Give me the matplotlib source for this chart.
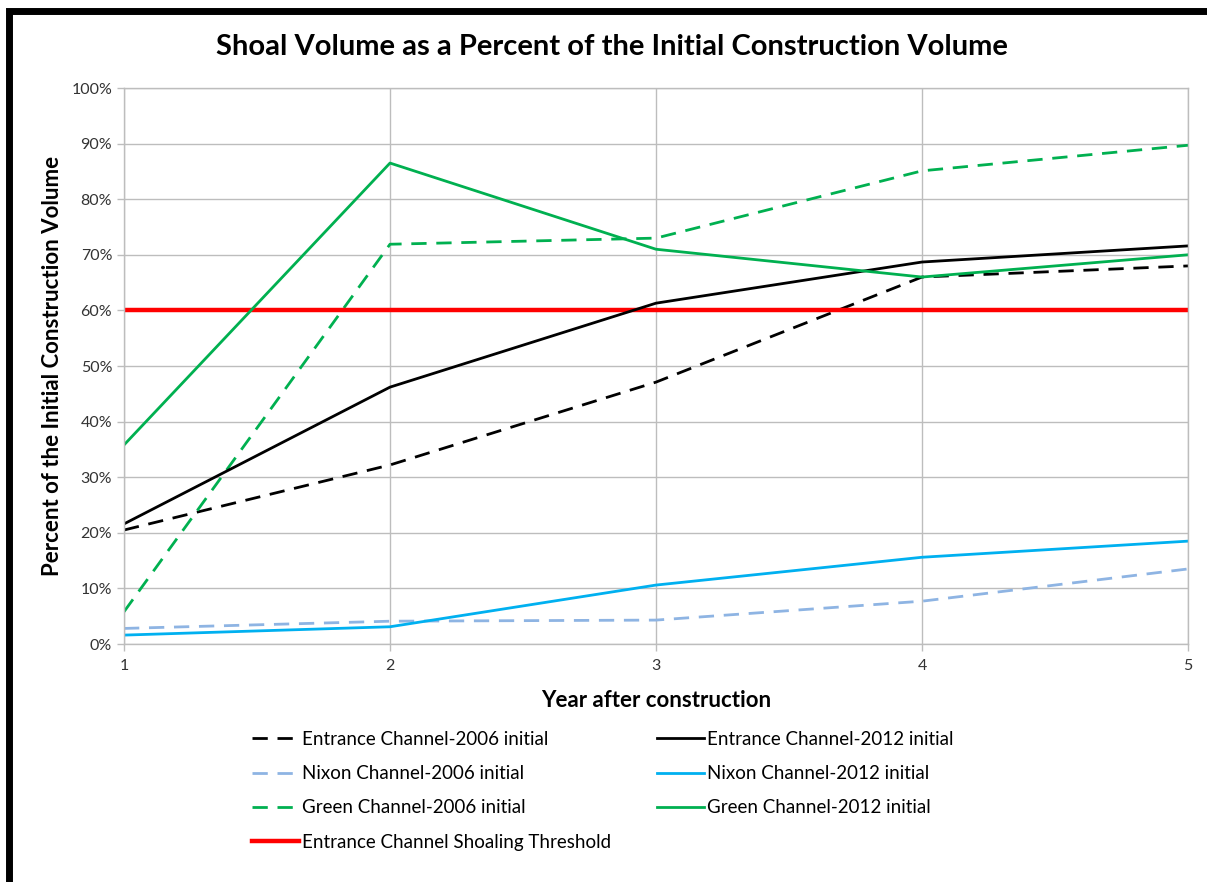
import matplotlib
matplotlib.use("Agg")
import matplotlib.pyplot as plt
from matplotlib.patches import Rectangle
from matplotlib.ticker import FuncFormatter

plt.rcParams['font.family'] = ['Lato', 'DejaVu Sans']

years = [1, 2, 3, 4, 5]
entrance_2006 = [20.5, 32.2, 47.1, 66.0, 68.0]
entrance_2012 = [21.6, 46.2, 61.3, 68.7, 71.6]
nixon_2006 = [2.8, 4.1, 4.3, 7.7, 13.5]
nixon_2012 = [1.6, 3.1, 10.6, 15.6, 18.5]
green_2006 = [5.8, 71.9, 73.0, 85.1, 89.7]
green_2012 = [35.8, 86.5, 71.0, 66.0, 70.0]
threshold = [60, 60, 60, 60, 60]

labels = ["Entrance Channel-2006 initial", "Nixon Channel-2006 initial",
          "Green Channel-2006 initial", "Entrance Channel Shoaling Threshold",
          "Entrance Channel-2012 initial", "Nixon Channel-2012 initial",
          "Green Channel-2012 initial"]

W, H = 1207, 882
fig = plt.figure(figsize=(W / 100, H / 100), dpi=100)
ax = fig.add_axes([124 / W, 1 - 644 / H, (1188 - 124) / W, (644 - 88) / H])

dash = (0, (5.5, 3.5))
lw = 2.0
h1, = ax.plot(years, entrance_2006, color='black', lw=lw, ls=dash)
h2, = ax.plot(years, nixon_2006, color='#8EB4E3', lw=lw, ls=dash)
h3, = ax.plot(years, green_2006, color='#00B050', lw=lw, ls=dash)
h4, = ax.plot(years, threshold, color='#FF0000', lw=3.2)
h5, = ax.plot(years, entrance_2012, color='black', lw=lw)
h6, = ax.plot(years, nixon_2012, color='#00B0F0', lw=lw)
h7, = ax.plot(years, green_2012, color='#00B050', lw=lw)

ax.set_xlim(1, 5)
ax.set_ylim(0, 100)
ax.set_xticks(years)
ax.set_yticks(range(0, 101, 10))
ax.yaxis.set_major_formatter(FuncFormatter(lambda v, p: f"{int(v)}%"))
ax.grid(True, color='#BDBDBD', lw=1.0)
ax.set_axisbelow(True)
for s in ax.spines.values():
    s.set_color('#BDBDBD')
    s.set_linewidth(1.0)
ax.tick_params(axis='both', colors='#BDBDBD', labelcolor='#333333', labelsize=11.5, length=5, width=1)
ax.tick_params(axis='x', pad=6)

ax.set_xlabel("Year after construction", fontsize=16, fontweight='bold', labelpad=12)
ax.set_ylabel("Percent of the Initial Construction Volume", fontsize=16, fontweight='bold', labelpad=6)
fig.text(0.507, 1 - 47 / H, "Shoal Volume as a Percent of the Initial Construction Volume",
         ha='center', va='center', fontsize=21, fontweight='bold')

fig.legend([h1, h2, h3, h4, h5, h6, h7], labels, ncol=2, frameon=False,
           loc='upper left', bbox_to_anchor=(235 / W, 1 - 714 / H),
           fontsize=13.5, handlelength=2.5, handletextpad=0.2, columnspacing=2.4,
           labelspacing=0.92)

fig.patches.append(Rectangle((9 / W, -0.1), 1.2, 1 - 11 / H + 0.1, transform=fig.transFigure,
                             fill=False, edgecolor='black', lw=5, clip_on=False))

fig.savefig("out.png", dpi=100)
